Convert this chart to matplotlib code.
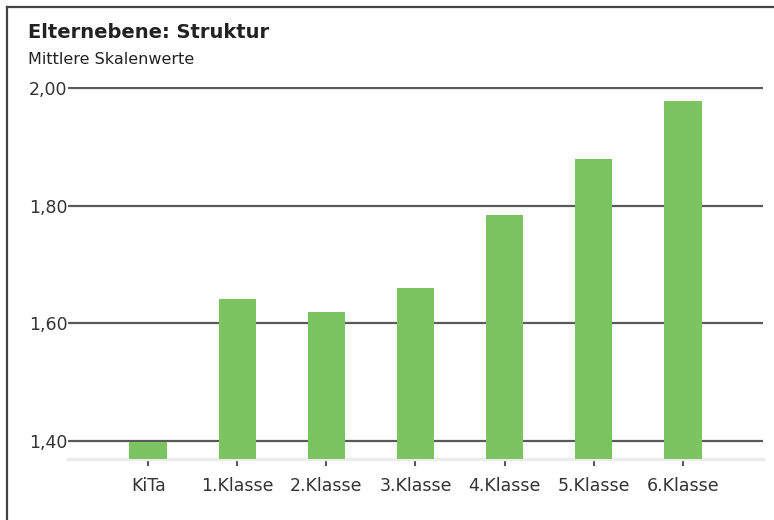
import matplotlib
matplotlib.use("Agg")
import matplotlib.pyplot as plt
from matplotlib.lines import Line2D
from matplotlib.ticker import FuncFormatter

categories = ["KiTa", "1.Klasse", "2.Klasse", "3.Klasse", "4.Klasse", "5.Klasse", "6.Klasse"]
values = [1.398, 1.642, 1.620, 1.660, 1.784, 1.879, 1.979]
yticks = [1.40, 1.60, 1.80, 2.00]
title = "Elternebene: Struktur"
subtitle = "Mittlere Skalenwerte"

W, H = 774, 520
plt.rcParams['font.family'] = ['DejaVu Sans']
fig = plt.figure(figsize=(W / 100, H / 100), dpi=100)

ymin, ymax = 1.369, 2.003
px_per_unit = 587.5
bottom_px = 459
top_px = bottom_px - (ymax - ymin) * px_per_unit
left_px, right_px = 68, 763
ax = fig.add_axes([left_px / W, 1 - bottom_px / H, (right_px - left_px) / W, (bottom_px - top_px) / H])

green = "#7cc462"
x = list(range(len(categories)))
ax.bar(x, [v - ymin for v in values], bottom=ymin, width=0.42, color=green, zorder=3)

ax.set_xlim(-0.9, len(categories) - 0.1)
ax.set_ylim(ymin, ymax)
ax.set_yticks(yticks)
ax.yaxis.set_major_formatter(FuncFormatter(lambda v, p: f"{v:.2f}".replace(".", ",")))
ax.set_xticks(x)
ax.set_xticklabels(categories)

ax.grid(axis="y", color="#5a5a5a", linewidth=1.6, zorder=1)
ax.set_axisbelow(True)
for s in ["top", "right", "left"]:
    ax.spines[s].set_visible(False)
ax.spines["bottom"].set_color("#ececec")
ax.spines["bottom"].set_linewidth(2.5)

ax.tick_params(axis="y", length=0, pad=0.5, labelsize=12.5, labelcolor="#333333")
ax.tick_params(axis="x", length=5, width=1.5, color="#555555", pad=8, labelsize=12.5, labelcolor="#333333")

fig.text(28 / W, 1 - 33 / H, title, fontsize=14, fontweight="bold", color="#222222", va="center", ha="left")
fig.text(28 / W, 1 - 59 / H, subtitle, fontsize=11.5, color="#222222", va="center", ha="left")

# frame lines (left and top)
fig.add_artist(Line2D([7 / W, 7 / W], [0, 1 - 7 / H], transform=fig.transFigure, color="#444444", linewidth=1.6))
fig.add_artist(Line2D([7 / W, 1], [1 - 7 / H, 1 - 7 / H], transform=fig.transFigure, color="#444444", linewidth=1.6))

fig.savefig("out.png", dpi=100)
